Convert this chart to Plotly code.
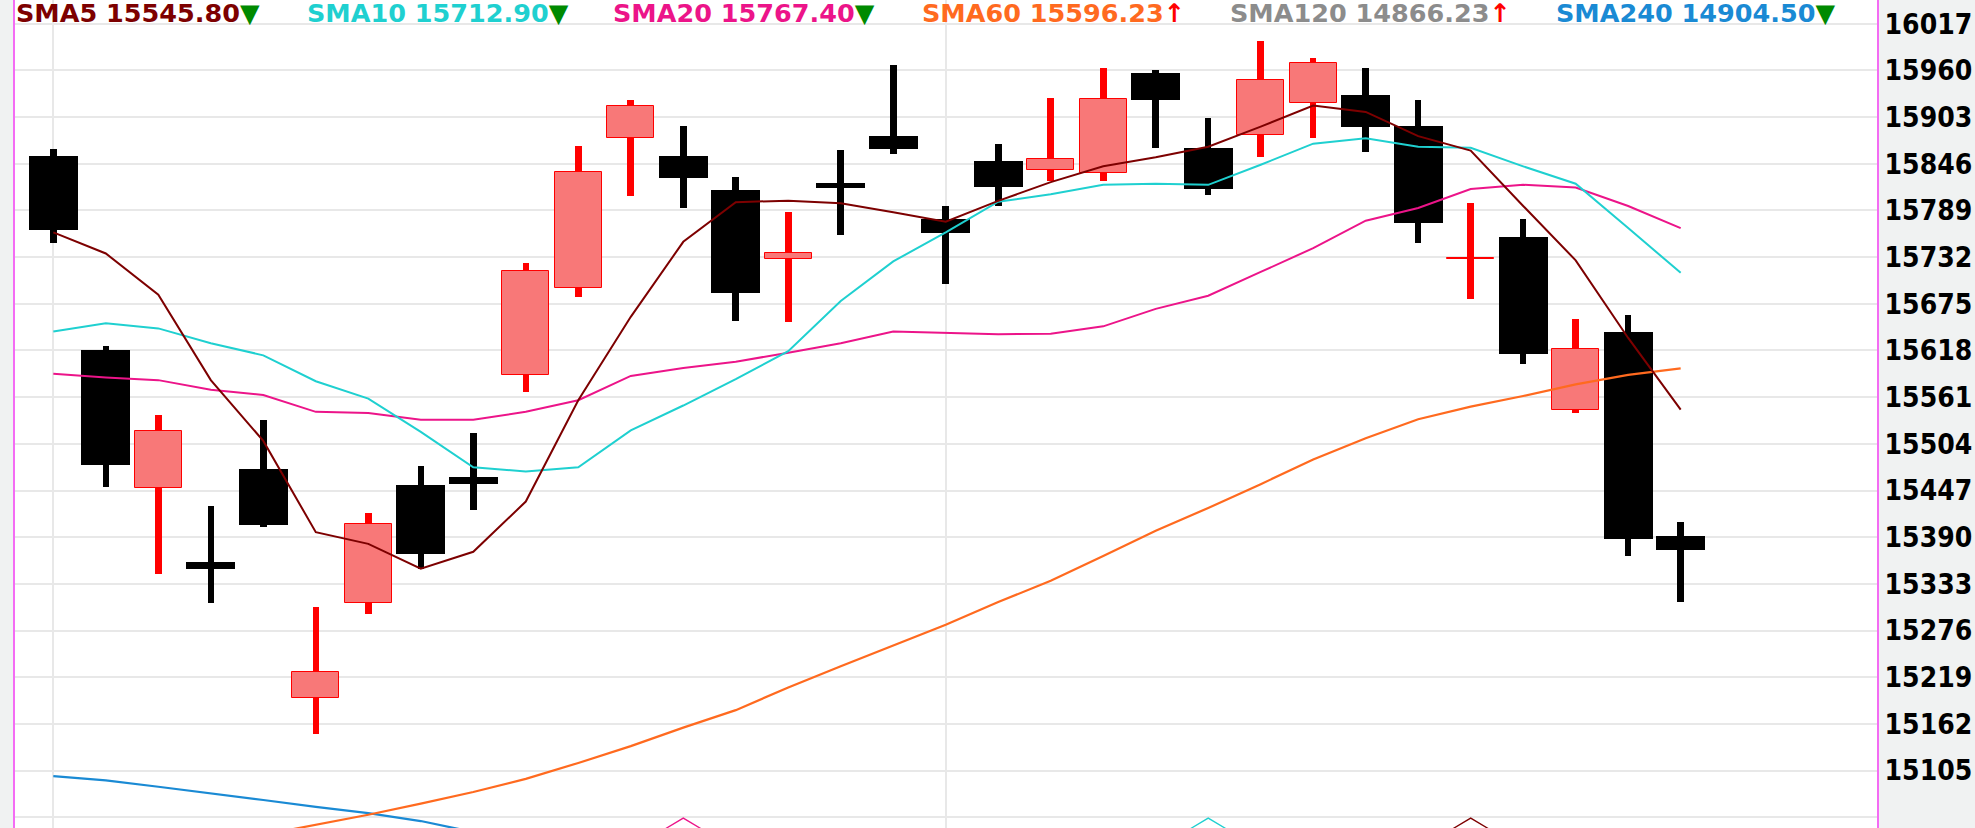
import plotly.graph_objects as go

# ---------------- data ----------------
opens = [15855.8, 15618.5, 15449.6, 15359.3, 15472.8, 15193.6, 15309.7, 15454.1,
         15463.8, 15587.6, 15694.6, 15877.1, 15855.2, 15814.5, 15730.1, 15822.9,
         15879.7, 15778.4, 15850.0, 15838.4, 15834.5, 15957.0, 15864.8, 15880.9,
         15920.3, 15930.0, 15892.6, 15730.0, 15756.5, 15545.7, 15641.1, 15390.9]
highs = [15863.5, 15623.7, 15539.8, 15428.3, 15532.8, 15304.5, 15419.3, 15476.7,
         15517.3, 15724.9, 15867.4, 15923.5, 15892.6, 15829.4, 15786.8, 15862.9,
         15966.1, 15794.5, 15870.6, 15926.1, 15963.5, 15960.3, 15902.2, 15995.7,
         15975.1, 15963.5, 15923.5, 15797.8, 15779.1, 15655.9, 15661.1, 15409.0]
lows = [15749.4, 15451.5, 15345.1, 15309.7, 15402.5, 15149.8, 15296.1, 15351.6,
        15423.1, 15567.6, 15683.0, 15806.2, 15792.6, 15654.6, 15652.7, 15759.1,
        15857.7, 15699.1, 15794.5, 15824.9, 15824.9, 15865.5, 15808.1, 15854.5,
        15877.1, 15861.0, 15749.4, 15680.4, 15601.1, 15541.1, 15367.0, 15311.0]
closes = [15764.9, 15478.6, 15519.2, 15351.6, 15404.4, 15225.8, 15405.7, 15369.0,
          15455.4, 15715.2, 15836.5, 15916.4, 15828.7, 15688.2, 15736.5, 15816.5,
          15863.5, 15761.7, 15817.8, 15851.9, 15924.8, 15924.1, 15815.2, 15948.7,
          15969.3, 15890.6, 15773.9, 15730.6, 15614.0, 15619.8, 15387.7, 15374.8]

sma5 = [15762.3, 15736.5, 15686.2, 15581.8, 15507.6, 15396.1, 15381.9, 15351.6,
        15372.2, 15433.5, 15557.3, 15659.1, 15750.7, 15799.1, 15801.0, 15797.8,
        15786.8, 15775.2, 15800.7, 15823.6, 15842.9, 15853.9, 15866.8, 15891.3,
        15917.1, 15909.3, 15879.7, 15862.2, 15794.5, 15728.1, 15633.3, 15545.8]
sma10 = [15641.1, 15651.4, 15645.0, 15626.9, 15612.1, 15580.5, 15559.2, 15518.6,
         15475.4, 15470.2, 15475.4, 15520.5, 15550.8, 15583.0, 15617.2, 15678.5,
         15726.8, 15762.3, 15799.7, 15808.7, 15820.3, 15821.6, 15820.3, 15844.8,
         15870.6, 15877.1, 15866.8, 15865.5, 15842.9, 15821.6, 15767.5, 15712.9]
sma20 = [15589.5, 15585.0, 15581.8, 15570.2, 15563.7, 15543.1, 15541.8, 15533.4,
         15533.4, 15543.1, 15557.3, 15586.9, 15596.6, 15604.3, 15615.3, 15626.9,
         15641.1, 15639.8, 15637.9, 15638.5, 15647.5, 15668.8, 15684.9, 15713.9,
         15743.0, 15776.5, 15792.0, 15815.2, 15820.3, 15817.1, 15794.5, 15767.4]
sma60 = [None, None, None, None, 15026.6, 15039.0, 15051.1, 15064.6,
         15078.8, 15094.9, 15114.3, 15134.9, 15157.5, 15178.8, 15206.5, 15232.3,
         15258.1, 15283.2, 15310.9, 15336.7, 15367.0, 15398.0, 15425.7, 15454.7,
         15485.0, 15510.8, 15534.0, 15549.5, 15562.4, 15576.6, 15588.2, 15596.23]
sma240 = [15098.2, 15093.0, 15085.3, 15077.5, 15069.1, 15060.8, 15053.0, 15043.4,
          15030.0] + [None] * 23

legend_names = ["SMA5", "SMA10", "SMA20", "SMA60", "SMA120", "SMA240"]
legend_values = [15545.80, 15712.90, 15767.40, 15596.23, 14866.23, 14904.50]
legend_dirs = ["down", "down", "down", "up", "up", "down"]

ytick_vals = [15048, 15105, 15162, 15219, 15276, 15333, 15390, 15447, 15504,
              15561, 15618, 15675, 15732, 15789, 15846, 15903, 15960, 16017]
ytick_text = [""] + [str(v) for v in ytick_vals[1:]]

signal_idx = [12, 22, 27]
signal_level = 15047

# ---------------- styles ----------------
C_UP_LINE = "#ff0000"
C_UP_FILL = "#f87878"
C_DOWN = "#000000"
COL = {"SMA5": "#7d0000", "SMA10": "#1fd0d0", "SMA20": "#ec1489",
       "SMA60": "#ff6a1f", "SMA120": "#8c8c8c", "SMA240": "#1a8ad4"}
signal_colors = [COL["SMA20"], COL["SMA10"], COL["SMA5"]]

W, H = 1975, 828
ML, MR = 15, 98
PW = W - ML - MR

x = list(range(len(closes)))
up = [c >= o for o, c in zip(opens, closes)]

fig = go.Figure()

# wicks
fig.add_trace(go.Bar(
    x=x, base=lows, y=[h - l for h, l in zip(highs, lows)], width=0.125,
    marker=dict(color=[C_UP_LINE if u else C_DOWN for u in up], line=dict(width=0)),
    hoverinfo="skip"))
# bodies
fig.add_trace(go.Bar(
    x=x, base=[min(o, c) for o, c in zip(opens, closes)],
    y=[abs(c - o) for o, c in zip(opens, closes)],
    width=[0.90 if u else 0.93 for u in up],
    marker=dict(color=[C_UP_FILL if u else C_DOWN for u in up],
                line=dict(color=[C_UP_LINE if u else C_DOWN for u in up],
                          width=[1 if u else 0 for u in up])),
    hoverinfo="skip"))

for name, series, lw in [("SMA240", sma240, 2.2), ("SMA60", sma60, 2.2),
                         ("SMA20", sma20, 2), ("SMA10", sma10, 2), ("SMA5", sma5, 2)]:
    fig.add_trace(go.Scatter(x=x, y=series, mode="lines", name=name,
                             line=dict(color=COL[name], width=lw), hoverinfo="skip"))

# crossover signal chevrons at the bottom edge
for i, col in zip(signal_idx, signal_colors):
    fig.add_trace(go.Scatter(x=[i - 0.6, i, i + 0.6],
                             y=[signal_level - 23, signal_level, signal_level - 23],
                             mode="lines", line=dict(color=col, width=1.3),
                             hoverinfo="skip"))

# legend text row
legend_x_px = [15, 306, 612, 921, 1229, 1555]
for name, val, d, px in zip(legend_names, legend_values, legend_dirs, legend_x_px):
    arrow = "<span style='color:#008a00'>▼</span>" if d == "down" else \
            "<span style='color:#ff0000'>↑</span>"
    fig.add_annotation(xref="paper", yref="paper", x=(px - ML) / PW, y=1,
                       xanchor="left", yanchor="top", yshift=3, showarrow=False,
                       borderpad=0,
                       text=f"{name} {val:.2f}{arrow}",
                       font=dict(family="DejaVu Sans", size=25.5, color=COL[name],
                                 weight="bold"))

fig.update_layout(
    width=W, height=H, margin=dict(l=ML, r=MR, t=0, b=0, pad=0),
    plot_bgcolor="#ffffff", paper_bgcolor="#f0f2f2",
    barmode="overlay", showlegend=False, bargap=0,
    xaxis=dict(range=[-0.73, 34.74], tickvals=[0, 17], showticklabels=False,
               showgrid=True, gridcolor="#e8e8e8", gridwidth=1.5,
               zeroline=False, showline=False, fixedrange=True),
    yaxis=dict(range=[15034.9, 16046.0], side="right", tickvals=ytick_vals,
               ticktext=ytick_text, showgrid=True, gridcolor="#e8e8e8",
               gridwidth=1.5, zeroline=False, showline=True, mirror=True,
               linecolor="#f46cf4", linewidth=2, ticks="", ticklabelstandoff=0,
               tickfont=dict(family="DejaVu Sans Condensed, DejaVu Sans", size=28,
                             color="#000000", weight="bold"),
               fixedrange=True),
)

fig.write_html("out.html")
